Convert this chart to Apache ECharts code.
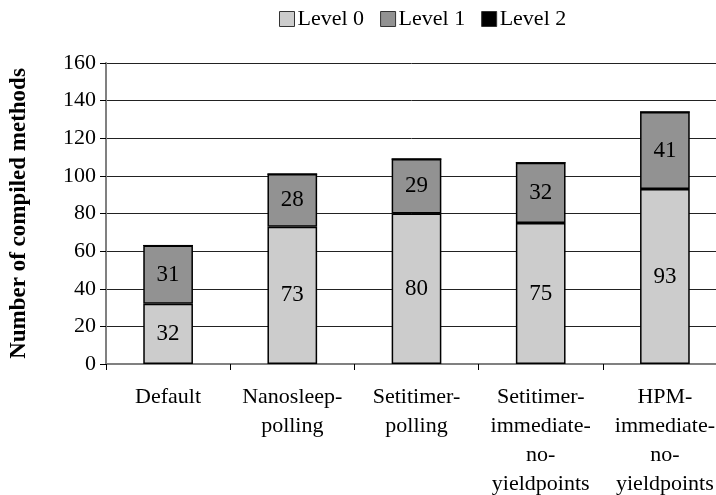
<!DOCTYPE html>
<html><head><meta charset="utf-8">
<script src="https://cdn.jsdelivr.net/npm/echarts@6/dist/echarts.min.js"></script>
<style>html,body{margin:0;padding:0;background:#fff}#c{width:716px;height:495px}</style>
</head><body><div id="c"></div>
<script>
const categories = ['Default', 'Nanosleep-\npolling', 'Setitimer-\npolling', 'Setitimer-\nimmediate-\nno-\nyieldpoints', 'HPM-\nimmediate-\nno-\nyieldpoints'];
const level0 = [32, 73, 80, 75, 93];
const level1 = [31, 28, 29, 32, 41];
const level2 = [0, 0, 0, 0, 0];
const yTicks = [0, 20, 40, 60, 80, 100, 120, 140, 160];
const seriesNames = ['Level 0', 'Level 1', 'Level 2'];

const font = 'Liberation Serif';
const chart = echarts.init(document.getElementById('c'));
const lbl = {show: true, position: 'inside', color: '#000', fontFamily: font, fontSize: 23,
  formatter: p => p.value > 0 ? String(p.value) : ''};
chart.setOption({
  animation: false,
  legend: {
    top: 3, left: 274, itemWidth: 15, itemHeight: 15, itemGap: 16,
    textStyle: {fontFamily: font, fontSize: 22, color: '#000', padding: [0, 0, 0, -2]},
    itemStyle: {borderColor: '#333', borderWidth: 1},
    data: seriesNames.map(n => ({name: n, icon: 'rect'}))
  },
  grid: {left: 106, right: -11, top: 63, bottom: 131, containLabel: false, outerBoundsMode: 'none'},
  xAxis: {
    type: 'category', data: categories,
    axisLine: {lineStyle: {color: '#808080', width: 2}},
    axisTick: {show: true, length: 6, lineStyle: {color: '#000'}},
    axisLabel: {fontFamily: font, fontSize: 22, color: '#000', lineHeight: 29, margin: 19, interval: 0}
  },
  yAxis: {
    type: 'value', min: 0, max: 160, interval: 20,
    name: 'Number of compiled methods', nameLocation: 'middle', nameGap: 75,
    nameTextStyle: {fontFamily: font, fontSize: 23, fontWeight: 'bold', color: '#000'},
    axisLine: {show: true, lineStyle: {color: '#808080', width: 2}},
    axisTick: {show: true, length: 6, lineStyle: {color: '#000'}},
    axisLabel: {fontFamily: font, fontSize: 22, color: '#000', margin: 10,
      formatter: v => yTicks.includes(v) ? String(v) : ''},
    splitLine: {lineStyle: {color: '#222', width: 1}}
  },
  series: [
    {name: 'Level 0', type: 'bar', stack: 's', data: level0, barWidth: '40%',
      itemStyle: {color: '#cccccc', borderColor: '#000', borderWidth: 1.5}, label: lbl},
    {name: 'Level 1', type: 'bar', stack: 's', data: level1,
      itemStyle: {color: '#929292', borderColor: '#000', borderWidth: 1.5}, label: lbl},
    {name: 'Level 2', type: 'bar', stack: 's', data: level2,
      itemStyle: {color: '#000', borderColor: '#000', borderWidth: 1}, label: {show: false}}
  ]
});
</script></body></html>
